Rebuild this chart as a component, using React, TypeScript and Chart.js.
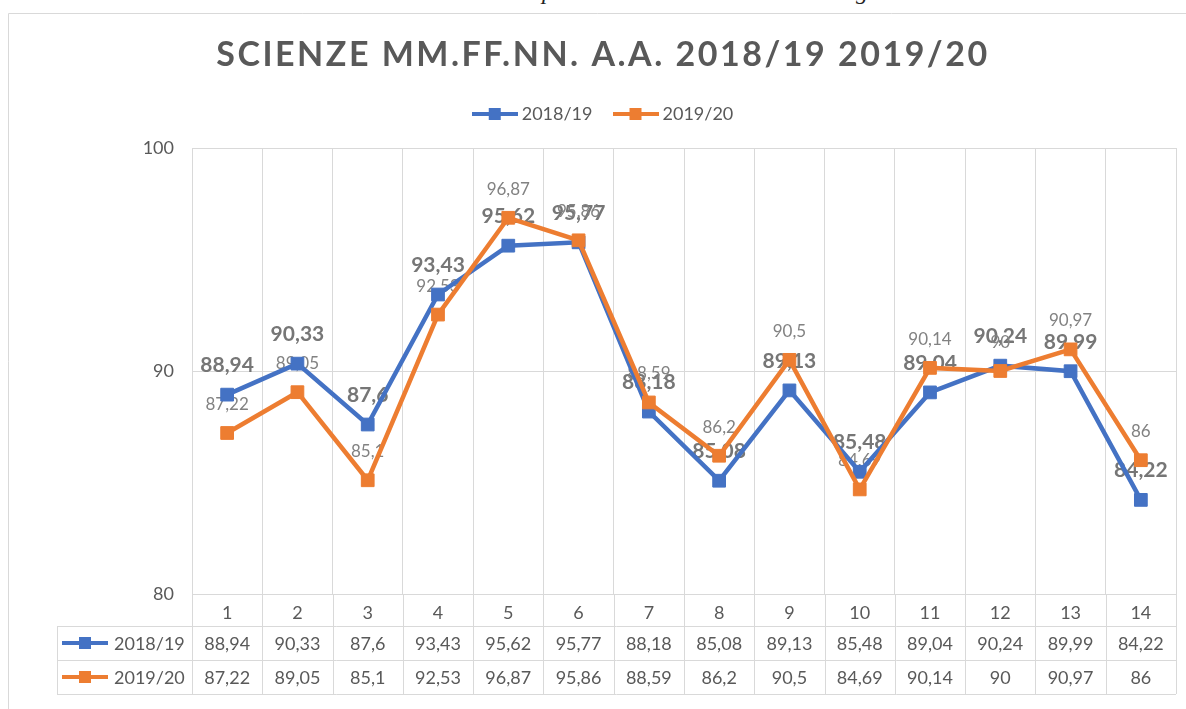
import React, { useEffect, useRef } from "react";
import { Chart, registerables } from "chart.js";

Chart.register(...registerables);

// ---------- data ----------
const categories = ["1", "2", "3", "4", "5", "6", "7", "8", "9", "10", "11", "12", "13", "14"];
const seriesNames = ["2018/19", "2019/20"];
const values1819 = [88.94, 90.33, 87.6, 93.43, 95.62, 95.77, 88.18, 85.08, 89.13, 85.48, 89.04, 90.24, 89.99, 84.22];
const values1920 = [87.22, 89.05, 85.1, 92.53, 96.87, 95.86, 88.59, 86.2, 90.5, 84.69, 90.14, 90, 90.97, 86];
const yMin = 80;
const yMax = 100;
const yStep = 10;
const chartTitle = "SCIENZE MM.FF.NN. A.A. 2018/19 2019/20";

// ---------- style ----------
const BLUE = "#4472C4";
const ORANGE = "#ED7D31";
const TEXT = "#595959";
const GRID = "#d9d9d9";
const FONT = "Lato";

const fmt = (v: number) => String(v).replace(".", ",");

function makeKey(color: string, w = 46, h = 14): HTMLCanvasElement {
  const c = document.createElement("canvas");
  c.width = w;
  c.height = h;
  const g = c.getContext("2d")!;
  g.strokeStyle = color;
  g.lineWidth = 4;
  g.beginPath();
  g.moveTo(0, h / 2);
  g.lineTo(w, h / 2);
  g.stroke();
  g.fillStyle = color;
  g.fillRect(w / 2 - 6, h / 2 - 6, 12, 12);
  return c;
}

export default function App() {
  const ref = useRef<HTMLCanvasElement>(null);

  useEffect(() => {
    const canvas = ref.current!;
    const keys = [makeKey(BLUE), makeKey(ORANGE)];

    const labelsPlugin = {
      id: "valueLabels",
      beforeDatasetsDraw(chart: any) {
        const ctx = chart.ctx as CanvasRenderingContext2D;
        ctx.save();
        ctx.textAlign = "center";
        ctx.textBaseline = "alphabetic";
        chart.data.datasets.forEach((ds: any, di: number) => {
          const meta = chart.getDatasetMeta(di);
          if (di === 0) {
            ctx.font = `bold 21px ${FONT}`;
            ctx.fillStyle = "#767676";
          } else {
            ctx.font = `17px ${FONT}`;
            ctx.fillStyle = "#828282";
          }
          meta.data.forEach((pt: any, i: number) => {
            const off = di === 0 ? 22.5 : 23;
            ctx.fillText(fmt(ds.data[i]), pt.x, pt.y - off);
          });
        });
        ctx.restore();
      },
    };

    const tablePlugin = {
      id: "dataTable",
      afterDraw(chart: any) {
        const ctx = chart.ctx as CanvasRenderingContext2D;
        const area = chart.chartArea;
        const xs = chart.scales.x;
        const top = area.bottom;
        const headerH = 32;
        const rowH = 34;
        const tableLeft = 57;
        const bottom = top + headerH + rowH * 2;
        ctx.save();
        ctx.strokeStyle = GRID;
        ctx.lineWidth = 1;
        const n = categories.length;
        const cw = (area.right - area.left) / n;
        ctx.beginPath();
        for (let i = 0; i <= n; i++) {
          const x = Math.round(area.left + i * cw) + 0.5;
          ctx.moveTo(x, top);
          ctx.lineTo(x, bottom);
        }
        for (let r = 0; r <= 2; r++) {
          const y = Math.round(top + headerH + r * rowH) + 0.5;
          ctx.moveTo(tableLeft, y);
          ctx.lineTo(area.right, y);
        }
        ctx.moveTo(tableLeft + 0.5, top + headerH);
        ctx.lineTo(tableLeft + 0.5, bottom);
        ctx.stroke();

        ctx.font = `18px ${FONT}`;
        ctx.fillStyle = TEXT;
        ctx.textAlign = "center";
        ctx.textBaseline = "alphabetic";
        const rows = [values1819, values1920];
        rows.forEach((vals, r) => {
          const cy = top + headerH + r * rowH + rowH / 2;
          vals.forEach((v, i) => {
            ctx.fillText(fmt(v), xs.getPixelForValue(i), cy + 6.5);
          });
          ctx.drawImage(keys[r], tableLeft + 5, cy - 7);
          ctx.textAlign = "left";
          ctx.fillText(seriesNames[r], tableLeft + 57, cy + 6.5);
          ctx.textAlign = "center";
        });

        // chart frame
        ctx.beginPath();
        ctx.moveTo(8.5, 709);
        ctx.lineTo(8.5, 13.5);
        ctx.lineTo(1186, 13.5);
        ctx.stroke();

        // title
        ctx.font = `bold 34px ${FONT}`;
        ctx.fillStyle = TEXT;
        (ctx as any).letterSpacing = "2.5px";
        ctx.textAlign = "center";
        ctx.fillText(chartTitle, 603, 66);
        ctx.restore();
      },
    };

    const chart = new Chart(canvas, {
      type: "line",
      data: {
        labels: categories,
        datasets: [
          {
            label: seriesNames[0],
            data: values1819,
            borderColor: BLUE,
            backgroundColor: BLUE,
            borderWidth: 4.5,
            pointStyle: "rect",
            pointRadius: 9,
            pointBorderWidth: 1,
            pointBackgroundColor: BLUE,
            pointBorderColor: BLUE,
            tension: 0,
            order: 1,
          },
          {
            label: seriesNames[1],
            data: values1920,
            borderColor: ORANGE,
            backgroundColor: ORANGE,
            borderWidth: 4.5,
            pointStyle: "rect",
            pointRadius: 9,
            pointBorderWidth: 1,
            pointBackgroundColor: ORANGE,
            pointBorderColor: ORANGE,
            tension: 0,
            order: 0,
          },
        ],
      },
      options: {
        responsive: false,
        animation: false,
        events: [],
        layout: { padding: { top: 80, left: 30, right: 6, bottom: 0 } },
        plugins: {
          title: { display: false },
          tooltip: { enabled: false },
          legend: {
            display: true,
            position: "top",
            labels: {
              usePointStyle: true,
              pointStyleWidth: 36,
              padding: 25,
              color: TEXT,
              font: { family: FONT, size: 18 },
              sort: (a: any, b: any) => a.datasetIndex - b.datasetIndex,
              generateLabels: (ch: any) =>
                (Chart.defaults.plugins.legend.labels as any)
                  .generateLabels(ch)
                  .map((it: any) => ({ ...it, pointStyle: keys[it.datasetIndex] })),
            },
          },
        },
        scales: {
          x: {
            type: "category",
            offset: true,
            grid: { offset: true, color: GRID, drawTicks: false },
            border: { color: GRID },
            ticks: { color: TEXT, font: { family: FONT, size: 18 }, padding: 8, maxRotation: 0 },
            afterFit: (s: any) => {
              s.height = 115;
            },
          },
          xGap: {
            type: "category",
            position: "top",
            offset: true,
            grid: { display: false, drawTicks: false },
            border: { display: false },
            ticks: { display: false },
            afterFit: (s: any) => {
              s.height = 15;
            },
          },
          y: {
            min: yMin,
            max: yMax,
            ticks: { stepSize: yStep, color: TEXT, font: { family: FONT, size: 18 }, padding: 18 },
            grid: { color: GRID, drawTicks: false },
            border: { display: false },
            afterFit: (s: any) => {
              s.width = 162;
            },
          },
        },
      },
      plugins: [labelsPlugin, tablePlugin],
    });

    return () => chart.destroy();
  }, []);

  return (
    <div style={{ position: "absolute", left: 0, top: 0, width: 1186, height: 709, background: "#fff" }}>
      <div style={{ position: "absolute", left: 0, top: 0, width: 1186, height: 11, overflow: "hidden" }}>
        <span style={{ position: "absolute", left: 542, top: -22, font: "italic 24px 'Liberation Serif'", color: "#222" }}>p</span>
        <span style={{ position: "absolute", left: 856, top: -22, font: "italic 24px 'Liberation Serif'", color: "#222" }}>g</span>
      </div>
      <canvas ref={ref} width={1186} height={709} style={{ position: "absolute", left: 0, top: 0 }} />
    </div>
  );
}
